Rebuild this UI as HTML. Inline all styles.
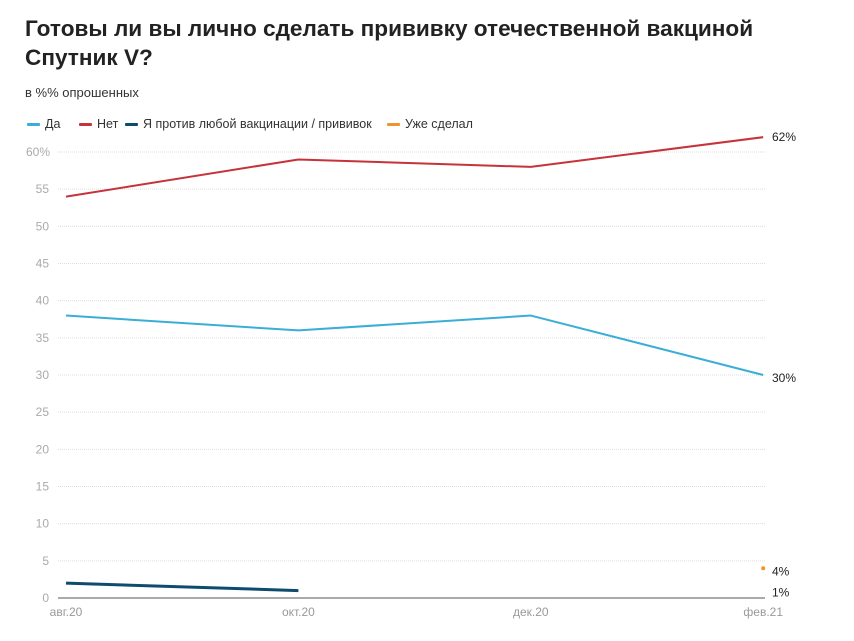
<!DOCTYPE html>
<html><head><meta charset="utf-8"><style>
body{margin:0;background:#fff;width:854px;height:641px;overflow:hidden;font-family:"Liberation Sans",sans-serif}
h1{position:absolute;left:25px;top:14px;margin:0;font-size:22.6px;line-height:29px;font-weight:bold;color:#222;width:800px}
.sub{position:absolute;left:25px;top:85px;font-size:13px;color:#333}
.leg{position:absolute;top:117px;font-size:12.5px;color:#333;display:flex;align-items:center}
.leg i{display:inline-block;width:13px;height:3px;margin-right:5px;border-radius:1px}
svg{position:absolute;left:0;top:0}
</style></head><body>
<h1>Готовы ли вы лично сделать прививку отечественной вакциной Спутник V?</h1>
<div class="sub">в %% опрошенных</div>
<div class="leg" style="left:27px"><i style="background:#3aaed6"></i>Да</div>
<div class="leg" style="left:79px"><i style="background:#c6333a"></i>Нет</div>
<div class="leg" style="left:125px"><i style="background:#0e4c6e"></i>Я против любой вакцинации / прививок</div>
<div class="leg" style="left:387px"><i style="background:#f0922e"></i>Уже сделал</div>
<svg id="c" width="854" height="641"></svg>
<script>
const categories=["авг.20","окт.20","дек.20","фев.21"];
const catIndex=[0,2,4,6];
const yesValues=[38,36,38,30];
const noValues=[54,59,58,62];
const againstValues=[2,1,null,null];
const doneValues=[null,null,null,4];
const yTicks=[0,5,10,15,20,25,30,35,40,45,50,55,60];
const endLabels=[["30%",30],["62%",62],["4%",4],["1%",1]];
const NS="http://www.w3.org/2000/svg",svg=document.getElementById("c");
const x=i=>66+catIndex[i]*116.2, y=v=>598-v*7.433;
function el(t,a,p){const e=document.createElementNS(NS,t);for(const k in a)e.setAttribute(k,a[k]);(p||svg).appendChild(e);return e;}
yTicks.forEach(t=>{
 if(t>0){const g=el("line",{x1:58,x2:765,y1:y(t),y2:y(t),stroke:"#ddd","stroke-dasharray":"1,1"});
 
 }
 const l=el("text",{x:t==60?26:49,y:y(t)+4,"font-size":12,fill:"#aaa","text-anchor":t==60?"start":"end"});
 l.textContent=t==60?"60%":t;
 
 
});
const base=el("line",{x1:58,x2:765,y1:598,y2:598,stroke:"#555","stroke-width":1});


categories.forEach((c,i)=>{const t=el("text",{x:x(i),y:616,"font-size":12,fill:"#999","text-anchor":"middle"});t.textContent=c;
 
 });
function line(vals,col,w,name){const pts=vals.map((v,i)=>v==null?null:x(i)+","+y(v)).filter(Boolean);
 const p=el("polyline",{points:pts.join(" "),fill:"none",stroke:col,"stroke-width":w,"stroke-linejoin":"round"});
 
 }
line(noValues,"#c6333a",2,"series-no-line");
line(yesValues,"#3aaed6",2,"series-yes-line");
line(againstValues,"#0e4c6e",3,"series-against-line");
doneValues.forEach((v,i)=>{if(v!=null){const d=el("circle",{cx:x(i),cy:y(v),r:2,fill:"#f0922e"});
 
 }});
endLabels.forEach(([s,v])=>{const t=el("text",{x:772,y:y(v)+(v==62?4:v==1?6:7),"font-size":12,fill:"#222"});t.textContent=s;
 
 });
</script>
</body></html>
